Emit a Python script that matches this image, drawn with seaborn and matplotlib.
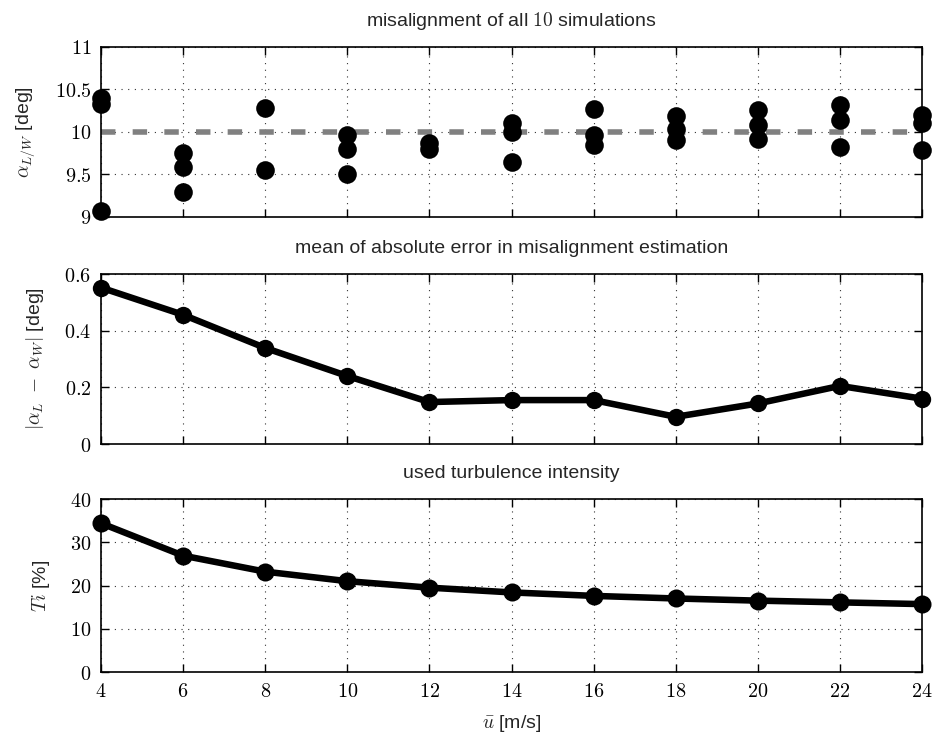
import numpy as np
import pandas as pd
import matplotlib
matplotlib.use("Agg")
import matplotlib.pyplot as plt
from matplotlib.ticker import FuncFormatter
import seaborn as sns

# ---------------- data ----------------
wind_speeds = [4, 6, 8, 10, 12, 14, 16, 18, 20, 22, 24]

# visible misalignment estimates per wind speed (overlapping simulations merged)
sim_speed = [4, 4, 4,
             6, 6, 6,
             8, 8,
             10, 10, 10,
             12, 12,
             14, 14, 14,
             16, 16, 16,
             18, 18, 18,
             20, 20, 20,
             22, 22, 22,
             24, 24, 24]
sim_alpha = [10.40, 10.33, 9.07,
             9.75, 9.58, 9.29,
             10.28, 9.55,
             9.96, 9.80, 9.50,
             9.87, 9.80,
             10.10, 10.00, 9.64,
             10.27, 9.96, 9.84,
             10.18, 10.03, 9.90,
             10.26, 10.08, 9.91,
             10.31, 10.14, 9.82,
             10.20, 10.10, 9.78]
true_misalignment = 10.0

mean_abs_error = [0.552, 0.456, 0.339, 0.240, 0.148, 0.155, 0.155, 0.096, 0.143, 0.205, 0.160]

turbulence_intensity = [34.4, 26.9, 23.2, 21.0, 19.5, 18.4, 17.6, 17.0, 16.5, 16.1, 15.7]

titles = ["misalignment of all $10$ simulations",
          "mean of absolute error in misalignment estimation",
          "used turbulence intensity"]
ylabels = [r"$\alpha_{L/W}$ [deg]",
           r"$|\alpha_L\ -\ \alpha_W|$ [deg]",
           r"$Ti$ [%]"]
xlabel = r"$\bar{u}$ [m/s]"

# ---------------- style ----------------
sns.set_theme(style="white")
plt.rcParams["font.family"] = ["Liberation Sans", "DejaVu Sans"]
plt.rcParams["mathtext.fontset"] = "cm"

fig = plt.figure(figsize=(9.36, 7.4), dpi=100)
left, width = 101 / 936, 821 / 936
ax1 = fig.add_axes([left, 1 - 216.7 / 740, width, 170 / 740])
ax2 = fig.add_axes([left, 1 - 444 / 740, width, 170 / 740])
ax3 = fig.add_axes([left, 1 - 672 / 740, width, 173 / 740])

df1 = pd.DataFrame({"u": sim_speed, "alpha": sim_alpha})
df2 = pd.DataFrame({"u": wind_speeds, "err": mean_abs_error})
df3 = pd.DataFrame({"u": wind_speeds, "ti": turbulence_intensity})

# panel 1
ax1.axhline(true_misalignment, color="#808080", lw=4, dashes=(2.6, 3.1), zorder=2)
sns.scatterplot(data=df1, x="u", y="alpha", ax=ax1, color="black", s=180,
                edgecolor="black", linewidth=0, zorder=3, clip_on=False)

# panel 2
sns.lineplot(data=df2, x="u", y="err", ax=ax2, color="black", lw=4.7,
             marker="o", markersize=12.5, markeredgewidth=0, zorder=3, clip_on=False)

# panel 3
sns.lineplot(data=df3, x="u", y="ti", ax=ax3, color="black", lw=4.7,
             marker="o", markersize=13, markeredgewidth=0, zorder=3, clip_on=False)

ylims = [(9, 11), (0, 0.6), (0, 40)]
yticks = [[9, 9.5, 10, 10.5, 11], [0, 0.2, 0.4, 0.6], [0, 10, 20, 30, 40]]

math_fmt = FuncFormatter(lambda v, p: f"${v:g}$")

for ax, t, yl, lim, yt in zip([ax1, ax2, ax3], titles, ylabels, ylims, yticks):
    ax.set_xlim(4, 24)
    ax.set_ylim(*lim)
    ax.set_xticks(wind_speeds)
    ax.set_yticks(yt)
    ax.yaxis.set_major_formatter(math_fmt)
    ax.xaxis.set_major_formatter(math_fmt)
    ax.set_title(t, fontsize=14, pad=15)
    ax.set_ylabel(yl, fontsize=14, labelpad=13)
    ax.set_xlabel("")
    ax.grid(True, color="#333333", linestyle=(0, (1, 5)), linewidth=0.8)
    ax.set_axisbelow(True)
    for s in ax.spines.values():
        s.set_visible(True)
        s.set_color("black")
        s.set_linewidth(1.2)
    ax.tick_params(direction="in", length=6, width=1, top=True, right=True,
                   bottom=True, left=True, labelsize=14.5, pad=7, colors="black")

ax1.tick_params(labelbottom=False)
ax2.tick_params(labelbottom=False)
ax3.set_xlabel(xlabel, fontsize=14, labelpad=9)

fig.savefig("out.png", dpi=100)
